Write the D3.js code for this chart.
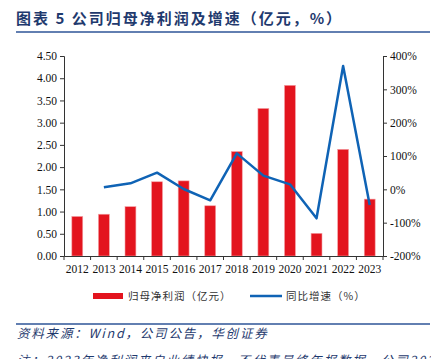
<!DOCTYPE html>
<html lang="zh">
<head>
<meta charset="utf-8">
<title>公司归母净利润及增速</title>
<script src="https://d3js.org/d3.v7.min.js"></script>
<style>
  body { margin:0; background:#fff; }
  svg { display:block; }
</style>
</head>
<body>
<svg width="431" height="359"></svg>
<script>
// data
var years = ["2012","2013","2014","2015","2016","2017","2018","2019","2020","2021","2022","2023"];
var profit = [0.89, 0.94, 1.11, 1.67, 1.69, 1.13, 2.35, 3.32, 3.84, 0.51, 2.40, 1.28];
var growth = [null, 6, 18, 50, 1, -33, 108, 41, 15, -87, 370, -47];
var leftTicks = [0, 0.5, 1, 1.5, 2, 2.5, 3, 3.5, 4, 4.5];
var rightTicks = [-200, -100, 0, 100, 200, 300, 400];

var svg = d3.select("svg");
var serif = "'Liberation Serif', 'Times New Roman', serif";
var cjk = "'Noto Sans CJK SC', sans-serif";
var navy = "#1f3a6e";

// title + rules
svg.append("text")
    .attr("x", 16).attr("y", 24)
    .attr("font-family", cjk).attr("font-weight", "bold")
    .attr("font-size", 15).attr("letter-spacing", 2).attr("fill", navy)
    .text("图表 5 公司归母净利润及增速（亿元，%）");
svg.append("line").attr("x1", 16).attr("x2", 430).attr("y1", 32).attr("y2", 32)
    .attr("stroke", "#2e5597").attr("stroke-width", 1.5);
svg.append("line").attr("x1", 16).attr("x2", 430).attr("y1", 324).attr("y2", 324)
    .attr("stroke", "#2e5597").attr("stroke-width", 1.5);

var margin = {left: 64, right: 48, top: 56, bottom: 103};
var width = 431 - margin.left - margin.right;
var height = 359 - margin.top - margin.bottom;

var g = svg.append("g")
    .attr("transform", "translate(" + margin.left + "," + margin.top + ")");

var x = d3.scaleBand().domain(years).range([0, width]).paddingInner(0.59).paddingOuter(0.295);
var y = d3.scaleLinear().domain([0, 4.5]).range([height, 0]);
var y2 = d3.scaleLinear().domain([-200, 400]).range([height, 0]);

// bars
g.selectAll("rect.bar")
    .data(profit)
    .enter().append("rect")
    .attr("class", "bar")
    .attr("x", function(d, i) { return x(years[i]); })
    .attr("width", x.bandwidth())
    .attr("y", function(d) { return y(d); })
    .attr("height", function(d) { return height - y(d); })
    .attr("fill", "#e3141e")
    .attr("stroke", "#f3a0a4").attr("stroke-width", 0.6);

// growth line
var line = d3.line()
    .defined(function(d) { return d != null; })
    .x(function(d, i) { return x(years[i]) + x.bandwidth() / 2; })
    .y(function(d) { return y2(d); });
g.append("path")
    .datum(growth)
    .attr("d", line)
    .attr("fill", "none")
    .attr("stroke", "#0f63b5")
    .attr("stroke-width", 2.5)
    .attr("stroke-linejoin", "round");

// axes
function styleAxis(sel) {
    sel.selectAll("path, line").attr("stroke", "#333");
    sel.selectAll("text").attr("font-family", serif).attr("font-size", 11.5).attr("fill", "#111");
}
var xAx = g.append("g")
    .attr("transform", "translate(0," + height + ")")
    .call(d3.axisBottom(x).tickSizeOuter(0).tickSizeInner(0));
xAx.selectAll("text").attr("dy", "1.2em");
// tick marks at band boundaries
xAx.selectAll("line.sep")
    .data(d3.range(years.length + 1))
    .enter().append("line")
    .attr("class", "sep")
    .attr("x1", function(i) { return i * x.step(); })
    .attr("x2", function(i) { return i * x.step(); })
    .attr("y1", 0).attr("y2", 4);
styleAxis(xAx);

var yAx = g.append("g")
    .call(d3.axisLeft(y).tickValues(leftTicks).tickFormat(d3.format(".2f")).tickSizeOuter(0).tickSize(4));
styleAxis(yAx);

var y2Ax = g.append("g")
    .attr("transform", "translate(" + width + ",0)")
    .call(d3.axisRight(y2).tickValues(rightTicks).tickFormat(function(d) { return d + "%"; }).tickSizeOuter(0).tickSize(4));
styleAxis(y2Ax);

// legend
var lg = svg.append("g").attr("transform", "translate(0,296)");
lg.append("rect").attr("x", 93).attr("y", -3).attr("width", 30).attr("height", 6).attr("fill", "#e3141e");
lg.append("text").attr("x", 128).attr("y", 4)
    .attr("font-family", cjk).attr("font-size", 10.5).attr("letter-spacing", 1).attr("fill", "#333")
    .text("归母净利润（亿元）");
lg.append("line").attr("x1", 250).attr("x2", 282).attr("y1", 0).attr("y2", 0)
    .attr("stroke", "#0f63b5").attr("stroke-width", 2.5);
lg.append("text").attr("x", 286).attr("y", 4)
    .attr("font-family", cjk).attr("font-size", 10.5).attr("letter-spacing", 1).attr("fill", "#333")
    .text("同比增速（%）");

// source + note
svg.append("text").attr("x", 17).attr("y", 338)
    .attr("font-family", cjk).attr("font-style", "italic")
    .attr("font-size", 12.5).attr("letter-spacing", 1.8).attr("fill", navy)
    .text("资料来源：Wind，公司公告，华创证券");
svg.append("text").attr("x", 17).attr("y", 365)
    .attr("font-family", cjk).attr("font-style", "italic")
    .attr("font-size", 12.5).attr("letter-spacing", 1.8).attr("fill", navy)
    .text("注：2023年净利润来自业绩快报，不代表最终年报数据，公司2023");
</script>
</body>
</html>
